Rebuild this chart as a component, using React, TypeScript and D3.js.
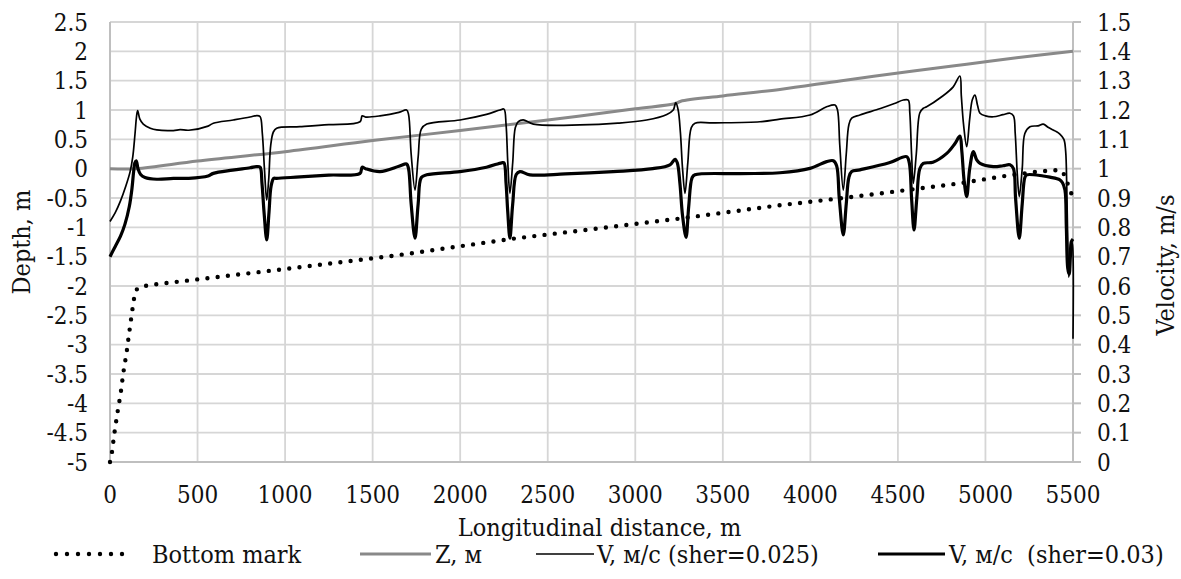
import React from "react";
import * as d3 from "d3";

const W = 1181;
const H = 579;

const xTicks = [0, 500, 1000, 1500, 2000, 2500, 3000, 3500, 4000, 4500, 5000, 5500];
const depthTicks = [2.5, 2, 1.5, 1, 0.5, 0, -0.5, -1, -1.5, -2, -2.5, -3, -3.5, -4, -4.5, -5];
const velTicks = [0, 0.1, 0.2, 0.3, 0.4, 0.5, 0.6, 0.7, 0.8, 0.9, 1, 1.1, 1.2, 1.3, 1.4, 1.5];

// Bottom mark (depth, m): [distance, value]
const bottomMark: [number, number][] = [
  [0, -5], [10, -4.86], [25, -4.51], [42, -4.17], [61, -3.83], [76, -3.48], [95, -3.13],
  [110, -2.79], [126, -2.44], [143, -2.1], [160, -2.03], [181, -2.01], [238, -1.98],
  [1000, -1.71], [1656, -1.47], [2284, -1.2], [3255, -0.85], [3807, -0.63], [4245, -0.48],
  [4854, -0.25], [5121, -0.12], [5300, -0.05], [5425, -0.02], [5450, -0.1], [5475, -0.3], [5500, -0.5],
];

// Z, m (left axis)
const zSeries: [number, number][] = [
  [0, 0], [150, 0], [500, 0.13], [1000, 0.29], [1500, 0.48], [2000, 0.65], [2500, 0.83],
  [3000, 1.02], [3230, 1.11], [3260, 1.15], [3500, 1.24], [3826, 1.35], [4179, 1.5],
  [4588, 1.665], [4893, 1.78], [5178, 1.89], [5500, 2.0],
];

// V, m/s (sher=0.025) (right axis)
const v025: [number, number][] = [
  [0, 0.82], [30, 0.85], [60, 0.89], [90, 0.94], [115, 0.99], [130, 1.04], [143, 1.12], [152, 1.18],
  [158, 1.198], [170, 1.17], [190, 1.152], [230, 1.138], [267, 1.132], [362, 1.13], [400, 1.133],
  [450, 1.131], [560, 1.145], [590, 1.155], [704, 1.166], [800, 1.176], [838, 1.181], [857, 1.178],
  [870, 1.12], [882, 1.0], [895, 0.893], [906, 0.96], [918, 1.08], [933, 1.125], [952, 1.138],
  [1085, 1.143], [1250, 1.15], [1428, 1.16], [1440, 1.18], [1460, 1.176], [1542, 1.18], [1650, 1.192],
  [1694, 1.2], [1705, 1.185], [1720, 1.05], [1742, 0.927], [1760, 1.04], [1778, 1.135], [1809, 1.152],
  [1999, 1.166], [2150, 1.185], [2227, 1.2], [2250, 1.203], [2262, 1.15], [2272, 1.02], [2284, 0.916],
  [2300, 1.02], [2315, 1.14], [2332, 1.16], [2360, 1.166], [2418, 1.152], [2684, 1.149], [2900, 1.155],
  [3065, 1.166], [3180, 1.185], [3217, 1.2], [3231, 1.225], [3245, 1.2], [3258, 1.121], [3270, 1.0],
  [3284, 0.916], [3300, 1.02], [3320, 1.14], [3341, 1.155], [3446, 1.156], [3712, 1.16], [3826, 1.169],
  [3998, 1.183], [4093, 1.211], [4141, 1.217], [4155, 1.2], [4168, 1.08], [4188, 0.927], [4205, 1.05],
  [4220, 1.15], [4236, 1.172], [4283, 1.183], [4400, 1.205], [4480, 1.222], [4531, 1.234], [4559, 1.234],
  [4568, 1.19], [4578, 1.05], [4588, 0.95], [4605, 1.05], [4625, 1.19], [4645, 1.206], [4664, 1.211],
  [4750, 1.245], [4816, 1.279], [4854, 1.316], [4862, 1.25], [4875, 1.15], [4893, 1.075], [4910, 1.17],
  [4925, 1.235], [4940, 1.251], [4955, 1.215], [4969, 1.189], [5000, 1.18], [5045, 1.177], [5100, 1.184],
  [5140, 1.189], [5160, 1.18], [5170, 1.12], [5182, 0.98], [5193, 0.905], [5210, 1.0], [5225, 1.12],
  [5254, 1.143], [5300, 1.146], [5330, 1.152], [5360, 1.14], [5400, 1.128], [5425, 1.118], [5448, 1.1],
  [5458, 1.06], [5464, 0.95], [5470, 0.75], [5476, 0.63], [5484, 0.7], [5492, 0.75], [5497, 0.74], [5500, 0.42],
];

// V, m/s (sher=0.03) (right axis)
const v03: [number, number][] = [
  [0, 0.7], [30, 0.735], [60, 0.77], [85, 0.81], [110, 0.87], [125, 0.93], [135, 0.99], [142, 1.02],
  [150, 1.027], [160, 1.0], [175, 0.98], [200, 0.97], [267, 0.964], [362, 0.967], [450, 0.967],
  [560, 0.975], [590, 0.984], [700, 0.995], [800, 1.003], [838, 1.007], [857, 1.005], [868, 0.95],
  [880, 0.85], [895, 0.757], [908, 0.85], [920, 0.94], [935, 0.967], [952, 0.967], [1085, 0.972],
  [1250, 0.978], [1428, 0.984], [1440, 1.005], [1460, 1.0], [1542, 0.99], [1650, 1.008], [1694, 1.016],
  [1705, 1.0], [1720, 0.88], [1742, 0.763], [1760, 0.88], [1778, 0.97], [1809, 0.979], [1999, 0.99],
  [2150, 1.005], [2237, 1.02], [2250, 1.02], [2262, 0.95], [2272, 0.85], [2284, 0.763], [2300, 0.88],
  [2320, 0.98], [2341, 0.99], [2398, 0.979], [2600, 0.982], [2874, 0.99], [3100, 1.0], [3198, 1.013],
  [3227, 1.032], [3240, 1.02], [3255, 0.95], [3270, 0.84], [3290, 0.766], [3305, 0.87], [3325, 0.97],
  [3341, 0.979], [3600, 0.983], [3826, 0.986], [3998, 1.001], [4093, 1.024], [4131, 1.027], [4150, 1.01],
  [4165, 0.9], [4188, 0.774], [4205, 0.88], [4220, 0.97], [4236, 0.99], [4283, 0.996], [4450, 1.02],
  [4550, 1.041], [4565, 1.02], [4578, 0.9], [4592, 0.791], [4608, 0.9], [4625, 1.0], [4645, 1.018],
  [4700, 1.022], [4779, 1.052], [4825, 1.085], [4854, 1.111], [4865, 1.06], [4878, 0.96], [4893, 0.905],
  [4910, 1.0], [4931, 1.058], [4950, 1.03], [4969, 1.018], [5045, 1.007], [5100, 1.01], [5140, 1.013],
  [5160, 1.0], [5172, 0.9], [5193, 0.763], [5210, 0.88], [5225, 0.97], [5236, 0.979], [5330, 0.975],
  [5368, 0.971], [5425, 0.962], [5440, 0.952], [5454, 0.927], [5462, 0.8], [5470, 0.66], [5478, 0.64],
  [5485, 0.7], [5490, 0.75], [5500, 0.76],
];

const legendLabels = ["Bottom mark", "Z, м", "V, м/с (sher=0.025)", "V, м/с  (sher=0.03)"];

export default function App() {
  const left = 110, right = 1073, top = 22, bottom = 462;
  const x = d3.scaleLinear().domain([0, 5500]).range([left, right]);
  const yL = d3.scaleLinear().domain([-5, 2.5]).range([bottom, top]);
  const yR = d3.scaleLinear().domain([0, 1.5]).range([bottom, top]);

  const curve = d3.curveCatmullRom.alpha(0.5);
  const lineL = d3.line<[number, number]>().x((d) => x(d[0])).y((d) => yL(d[1])).curve(curve);
  const lineR = d3.line<[number, number]>().x((d) => x(d[0])).y((d) => yR(d[1])).curve(curve);
  const lineLin = d3.line<[number, number]>().x((d) => x(d[0])).y((d) => yL(d[1]));

  const grid = "#d6d6d6";
  const axisC = "#bfbfbf";
  const legY = 554;
  const base = { fontFamily: '"DejaVu Serif"', fontStretch: "condensed", fill: "#111" };
  const tick = { ...base, fontSize: 24 } as React.CSSProperties;
  const lab = { ...base, fontSize: 25 } as React.CSSProperties;

  return (
    <svg width={W} height={H} style={{ position: "absolute", left: 0, top: 0, background: "#fff" }}>
      {depthTicks.map((t) => (
        <line key={"h" + t} x1={left} x2={right} y1={yL(t)} y2={yL(t)} stroke={grid} strokeWidth={1.8} />
      ))}
      {xTicks.map((t) => (
        <line key={"v" + t} x1={x(t)} x2={x(t)} y1={top} y2={bottom} stroke={grid} strokeWidth={1.8} />
      ))}
      <line x1={left} x2={left} y1={top} y2={bottom} stroke={axisC} strokeWidth={2} />
      <line x1={left} x2={right} y1={bottom} y2={bottom} stroke={axisC} strokeWidth={2} />
      <line x1={right} x2={right} y1={top} y2={bottom} stroke={axisC} strokeWidth={2} />
      {velTicks.map((t) => (
        <line key={"rt" + t} x1={right} x2={right + 8} y1={yR(t)} y2={yR(t)} stroke={axisC} strokeWidth={2} />
      ))}

      {depthTicks.map((t) => (
        <text key={"lt" + t} x={88} y={yL(t)} dy="0.36em" textAnchor="end" style={tick}>{t}</text>
      ))}
      {velTicks.map((t) => (
        <text key={"rl" + t} x={1097} y={yR(t)} dy="0.36em" textAnchor="start" style={tick}>{t}</text>
      ))}
      {xTicks.map((t) => (
        <text key={"xl" + t} x={x(t)} y={494} dy="0.36em" textAnchor="middle" style={tick}>{t}</text>
      ))}

      <text x={(left + right) / 2 + 8} y={527} dy="0.36em" textAnchor="middle" style={lab}>Longitudinal distance, m</text>
      <text transform={`translate(21,242) rotate(-90)`} dy="0.36em" textAnchor="middle" style={lab}>Depth, m</text>
      <text transform={`translate(1165,265) rotate(-90)`} dy="0.36em" textAnchor="middle" style={lab}>Velocity, m/s</text>

      <path d={lineLin(bottomMark) || ""} fill="none" stroke="#000" strokeWidth={4.4}
        strokeDasharray="0 10.3" strokeLinecap="round" />
      <path d={lineL(zSeries) || ""} fill="none" stroke="#898989" strokeWidth={3} />
      <path d={lineR(v025) || ""} fill="none" stroke="#000" strokeWidth={1.7} />
      <path d={lineR(v03) || ""} fill="none" stroke="#000" strokeWidth={3.2} />

      <line x1={56} x2={123} y1={legY} y2={legY} stroke="#000" strokeWidth={4.4} strokeDasharray="0 11" strokeLinecap="round" />
      <text x={152} y={legY} dy="0.36em" style={lab}>{legendLabels[0]}</text>
      <line x1={360} x2={431} y1={legY} y2={legY} stroke="#898989" strokeWidth={3} />
      <text x={435} y={legY} dy="0.36em" style={lab}>{legendLabels[1]}</text>
      <line x1={536} x2={594} y1={legY} y2={legY} stroke="#000" strokeWidth={1.7} />
      <text x={597} y={legY} dy="0.36em" style={lab}>{legendLabels[2]}</text>
      <line x1={878} x2={945} y1={legY} y2={legY} stroke="#000" strokeWidth={3.2} />
      <text x={949} y={legY} dy="0.36em" style={{ ...lab, whiteSpace: "pre" }}>{legendLabels[3]}</text>
    </svg>
  );
}
